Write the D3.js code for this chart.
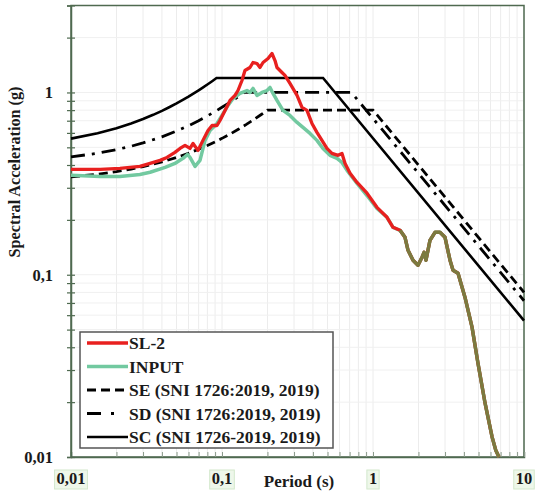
<!DOCTYPE html>
<html><head><meta charset="utf-8">
<script src="https://cdn.jsdelivr.net/npm/d3@7"></script>
<style>
html,body{margin:0;padding:0;background:#fff;}
svg{display:block;}
text{font-family:"Liberation Serif","Times New Roman",serif;font-weight:bold;}
</style></head>
<body>
<svg id="chart" width="536" height="493"></svg>
<script>
// ---------- DATA ----------
const sl2Period = [0.0100,0.0156,0.0211,0.0286,0.0334,0.0389,0.0432,0.0488,0.0527,0.0569,0.0614,0.0643,0.0693,0.0748,0.0808,0.0859,0.0927,0.0970,0.1047,0.1130,0.1219,0.1276,0.1356,0.1419,0.1532,0.1604,0.1705,0.1785,0.1870,0.2018,0.2143,0.2244,0.2313,0.2495,0.2612,0.2819,0.3140,0.3387,0.3653,0.3943,0.4254,0.4592,0.4955,0.5350,0.5866,0.6233,0.6531,0.7047,0.7841,0.9126,1.062,1.238,1.357,1.510,1.629,1.706,1.841,1.986,2.112,2.180,2.244,2.384,2.574,2.778,2.998,3.236,3.388,3.657,4.064,4.527,4.957,5.519,6.145,6.500,6.830];
const sl2Accel  = [0.378,0.378,0.383,0.393,0.408,0.424,0.440,0.469,0.493,0.512,0.493,0.525,0.481,0.546,0.619,0.659,0.659,0.702,0.797,0.904,0.963,1.025,1.163,1.320,1.371,1.460,1.442,1.371,1.460,1.536,1.636,1.497,1.371,1.287,1.240,1.120,0.963,0.828,0.797,0.676,0.604,0.546,0.493,0.463,0.452,0.463,0.408,0.360,0.321,0.280,0.2344,0.2066,0.182,0.1753,0.1605,0.1362,0.1201,0.1127,0.1247,0.1328,0.1201,0.1545,0.1709,0.1709,0.1605,0.1201,0.1058,0.1019,0.0753,0.0516,0.0327,0.0198,0.0129,0.0109,0.0100];

const inputPeriod = [0.0100,0.0156,0.0211,0.0286,0.0334,0.0420,0.0488,0.0552,0.0590,0.0614,0.0663,0.0715,0.0772,0.0833,0.0927,0.1000,0.1096,0.1183,0.1316,0.1464,0.1532,0.1604,0.1705,0.1840,0.1987,0.2080,0.2177,0.2313,0.2535,0.2819,0.3140,0.3438,0.3828,0.4254,0.4664,0.5191,0.5777,0.6233,0.6730,0.7841,0.9126,1.062,1.238,1.357,1.510,1.629,1.706,1.841,1.986,2.112,2.180,2.244,2.384,2.574,2.778,2.998,3.236,3.388,3.657,4.064,4.527,4.957,5.519,6.145,6.500,6.830];
const inputAccel  = [0.351,0.346,0.346,0.355,0.365,0.388,0.408,0.435,0.457,0.440,0.393,0.424,0.546,0.619,0.676,0.748,0.849,0.927,0.988,1.025,1.000,1.052,0.963,1.000,1.025,1.065,0.988,0.904,0.797,0.748,0.685,0.643,0.596,0.546,0.493,0.452,0.435,0.413,0.374,0.317,0.272,0.2314,0.2066,0.182,0.1753,0.1605,0.1362,0.1201,0.1127,0.1247,0.1328,0.1201,0.1545,0.1709,0.1709,0.1605,0.1201,0.1058,0.1019,0.0753,0.0516,0.0327,0.0198,0.0129,0.0109,0.0100];

const sePeriod = [0.01,0.015,0.02,0.025,0.03,0.04,0.05,0.06,0.07,0.08,0.09,0.10,0.115,0.13,0.145,0.16,0.18,0.20,1.00,10];
const seAccel  = [0.344,0.356,0.368,0.380,0.392,0.416,0.440,0.464,0.488,0.512,0.536,0.560,0.596,0.632,0.668,0.704,0.752,0.800,0.800,0.080];

const sdPeriod = [0.01,0.015,0.02,0.025,0.03,0.04,0.05,0.06,0.07,0.08,0.09,0.10,0.11,0.12,0.13,0.14,0.72,10];
const sdAccel  = [0.443,0.464,0.486,0.507,0.529,0.571,0.614,0.657,0.700,0.743,0.786,0.829,0.871,0.914,0.957,1.000,1.000,0.072];

const scPeriod = [0.01,0.015,0.02,0.025,0.03,0.035,0.04,0.045,0.05,0.055,0.06,0.065,0.07,0.075,0.08,0.086,0.092,0.467,10];
const scAccel  = [0.558,0.597,0.637,0.676,0.715,0.754,0.793,0.832,0.871,0.910,0.949,0.989,1.028,1.067,1.106,1.153,1.200,1.200,0.056];

const xTickValues = [0.01,0.1,1,10];
const xTickLabels = ["0,01","0,1","1","10"];
const yTickValues = [0.01,0.1,1];
const yTickLabels = ["0,01","0,1","1"];

const legendLabels = ["SL-2","INPUT","SE (SNI 1726:2019, 2019)","SD (SNI 1726:2019, 2019)","SC (SNI 1726-2019, 2019)"];
const xTitle = "Period (s)";
const yTitle = "Spectral Acceleration (g)";

// ---------- CHART ----------
const svg = d3.select("#chart");
const L = 71, R = 524, T = 5.5, B = 457;
const x = d3.scaleLog().domain([0.01,10]).range([L,R]);
const y = d3.scaleLog().domain([0.01,3]).range([B,T]);
const axisColor = "#4f6a50";

const xMinor = [], yMinor = [];
[0.01,0.1,1].forEach(d => { for (let k=1;k<10;k++) xMinor.push(d*k); });
xMinor.push(10);
[0.01,0.1,1].forEach(d => { for (let k=1;k<10;k++) { const v=d*k; if (v<=3.0001) yMinor.push(v);} });

// grid
const grid = svg.append("g");
grid.selectAll("line.gx").data(xMinor).join("line")
  .attr("x1",d=>x(d)).attr("x2",d=>x(d)).attr("y1",T).attr("y2",B)
  .attr("stroke","#ececec").attr("stroke-width",1);
grid.selectAll("line.gy").data(yMinor).join("line")
  .attr("x1",L).attr("x2",R).attr("y1",d=>y(d)).attr("y2",d=>y(d))
  .attr("stroke","#f0f0f0").attr("stroke-width",1);

// frame
svg.append("rect").attr("x",L).attr("y",T).attr("width",R-L).attr("height",B-T)
  .attr("fill","none").attr("stroke",axisColor).attr("stroke-width",1.5);

// axes ticks
const xAxis = d3.axisBottom(x).tickValues(xMinor).tickSize(-5).tickFormat("");
svg.append("g").attr("transform",`translate(0,${B})`).call(xAxis)
  .call(g=>{g.select(".domain").attr("stroke",axisColor).attr("stroke-width",1.5);
            g.selectAll(".tick line").attr("stroke","#8a9a8a").attr("stroke-width",1);});
const yAxis = d3.axisLeft(y).tickValues(yMinor).tickSize(4).tickFormat("");
svg.append("g").attr("transform",`translate(${L},0)`).call(yAxis)
  .call(g=>{g.select(".domain").attr("stroke",axisColor).attr("stroke-width",1.5);
            g.selectAll(".tick line").attr("stroke",axisColor).attr("stroke-width",1.2).attr("x2",4).attr("x1",-4);});

// x tick labels with pale boxes
const xl = svg.append("g");
xTickValues.forEach((v,i)=>{
  const t = xl.append("text").attr("x",x(v)).attr("y",484).attr("text-anchor","middle")
    .attr("font-size",16.5).attr("fill","#1a1a1a").text(xTickLabels[i]);
  const bb = t.node().getBBox();
  xl.insert("rect","text").attr("x",bb.x-2).attr("y",bb.y+1).attr("width",bb.width+4).attr("height",bb.height)
    .attr("fill","#eef7ea").attr("stroke","#d3e8cc").attr("stroke-width",1);
});
// y tick labels
yTickValues.forEach((v,i)=>{
  svg.append("text").attr("x",53).attr("y",y(v)+6).attr("text-anchor","end")
    .attr("font-size",16.5).attr("fill","#1a1a1a").text(yTickLabels[i]);
});

// titles
svg.append("text").attr("x",299).attr("y",487).attr("text-anchor","middle")
  .attr("font-size",17).attr("fill","#1a1a1a").text(xTitle);
svg.append("text").attr("transform","translate(20,172) rotate(-90)").attr("text-anchor","middle")
  .attr("font-size",16.2).attr("fill","#1a1a1a").text(yTitle);

// lines
const line = d3.line().x(d=>x(d[0])).y(d=>y(d[1]));
const zip = (a,b)=>a.map((v,i)=>[v,b[i]]);
const plot = svg.append("g");
plot.append("path").datum(zip(scPeriod,scAccel)).attr("d",line)
  .attr("fill","none").attr("stroke","#000").attr("stroke-width",2.6);
plot.append("path").datum(zip(sdPeriod,sdAccel)).attr("d",line)
  .attr("fill","none").attr("stroke","#000").attr("stroke-width",2.8).attr("stroke-dasharray","14,7,3,7");
plot.append("path").datum(zip(sePeriod,seAccel)).attr("d",line)
  .attr("fill","none").attr("stroke","#000").attr("stroke-width",2.8).attr("stroke-dasharray","9,5");
plot.append("path").datum(zip(inputPeriod,inputAccel)).attr("d",line)
  .attr("fill","none").attr("stroke","#72c9a0").attr("stroke-width",3.5).attr("stroke-linejoin","round");
plot.append("path").datum(zip(sl2Period,sl2Accel)).attr("d",line)
  .attr("fill","none").attr("stroke","#e8201f").attr("stroke-width",3.3).attr("stroke-linejoin","round");
// overlapping part of both records (identical values) shows mixed olive tone
plot.append("path").datum(zip(sl2Period,sl2Accel).filter(d=>d[0]>=1.45)).attr("d",line)
  .attr("fill","none").attr("stroke","#7b7a3f").attr("stroke-width",3.4).attr("stroke-linejoin","round");

// legend
const lg = svg.append("g");
lg.append("rect").attr("x",80).attr("y",332).attr("width",253).attr("height",116)
  .attr("fill","#fff").attr("stroke","#555").attr("stroke-width",1.5);
const legendStyles = [
  {c:"#e8201f",w:3.3,dash:null},
  {c:"#72c9a0",w:3.5,dash:null},
  {c:"#000",w:2.8,dash:"9,5"},
  {c:"#000",w:2.8,dash:"14,10,3,20"},
  {c:"#000",w:2.6,dash:null},
];
legendLabels.forEach((lab,i)=>{
  const cy = 343 + i*23.5;
  lg.append("line").attr("x1",87).attr("x2",128).attr("y1",cy).attr("y2",cy)
    .attr("stroke",legendStyles[i].c).attr("stroke-width",legendStyles[i].w)
    .attr("stroke-dasharray",legendStyles[i].dash);
  lg.append("text").attr("x",129).attr("y",cy+6).attr("font-size",17.5).attr("fill","#1a1a1a").text(lab);
});
</script>
</body></html>
